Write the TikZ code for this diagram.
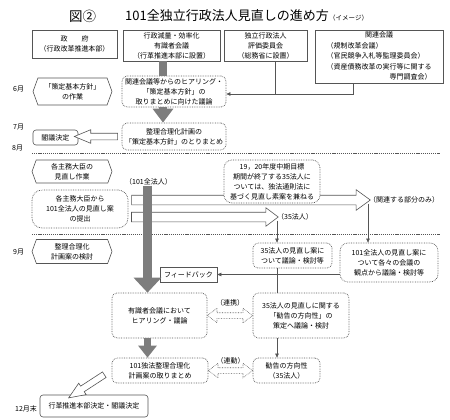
\documentclass[tikz,border=0pt]{standalone}
\usepackage{fontspec}
\setmainfont{Noto Sans CJK JP}
\usetikzlibrary{positioning,calc,arrows.meta,shapes.symbols,shapes.arrows}

\definecolor{linegray}{RGB}{85,85,85}
\definecolor{bargray}{RGB}{125,125,125}

% hollow block arrow laid between two points
\newcommand{\blockarrow}[3]{%
  \path let \p1=(#2), \p2=(#3) in
    node[#1, rotate={atan2((\y2)-(\y1),(\x2)-(\x1))},
         minimum height={veclen((\x2)-(\x1),(\y2)-(\y1))}]
      at ($(\p1)!0.5!(\p2)$) {};}

\begin{document}
\begin{tikzpicture}[x=1pt,y=-1pt,
  every node/.style={font=\fontsize{7}{10}\selectfont, inner sep=0pt},
  headbox/.style={draw=linegray, line width=0.6pt, align=center},
  dotbox/.style={draw=linegray, densely dotted, line width=0.7pt, fill=white,
    rounded corners=5pt, align=center},
  solidbox/.style={draw=linegray, line width=0.6pt, rounded corners=3pt, align=center},
  hexbox/.style={draw=linegray, line width=0.6pt, signal, signal to=west and east,
    signal pointer angle=140, align=center},
  month/.style={anchor=west},
  conn/.style={draw=linegray, line width=0.6pt},
  arr/.style={-{Triangle[length=4pt,width=3.5pt]}},
  sepline/.style={draw=linegray, line width=0.6pt, dash pattern=on 1.2pt off 0.9pt},
  graybar/.style={draw=bargray, line width=8pt},
  grayarrow/.style={graybar, -{Triangle[length=14pt,width=20pt]}},
  openarrow/.style={single arrow, draw=linegray, line width=0.6pt, fill=white,
    inner xsep=0pt, single arrow head indent=0pt},
  dotarrow/.style={double arrow, draw=linegray, densely dotted, line width=0.6pt,
    fill=white, inner xsep=0pt, inner ysep=2.5pt, double arrow head extend=4.5pt,
    double arrow tip angle=74}
]
  \useasboundingbox (0,0) rectangle (450,420);

  % title
  \node[anchor=west, font=\fontsize{13.5}{14}\selectfont] (fig) at (69,16) {図②};
  \node[anchor=west, font=\fontsize{13}{14}\selectfont] (title) at (125,16)
    {101全独立行政法人見直しの進め方};
  \node[anchor=base west, font=\fontsize{6.5}{7}\selectfont] (image)
    at (title.base east) {（イメージ）};

  % header row
  \node[headbox, minimum width=85, minimum height=28] (gov) at (74.5,44)
    {政　　府\\（行政改革推進本部）};
  \node[headbox, minimum width=97, minimum height=31] (expert) at (171.5,45.5)
    {行政減量・効率化\\有識者会議\\（行革推進本部に設置）};
  \node[headbox, minimum width=83, minimum height=31] (evalc) at (265.5,45.5)
    {独立行政法人\\評価委員会\\（総務省に設置）};
  \node[headbox, minimum width=128, minimum height=53] (related) at (379,56.5)
    {\def\arraystretch{1.05}\begin{tabular}{@{}l@{}}
      \multicolumn{1}{@{}c@{}}{関連会議}\\
      （規制改革会議）\\
      （官民競争入札等監理委員会）\\
      （資産債務改革の実行等に関する\\
      \multicolumn{1}{@{}r@{}}{専門調査会）}
    \end{tabular}};

  % months
  \node[month] (m6) at (13,89) {6月};
  \node[month] (m7) at (13,127) {7月};
  \node[month] (m8) at (12,148) {8月};
  \node[month] (m9) at (13,252) {9月};
  \node[month] (m12) at (15,409) {12月末};

  % June - August
  \node[hexbox, minimum width=79, minimum height=27] (hex1) at (72.5,91.5)
    {「策定基本方針」\\の作業};
  \node[dotbox, minimum width=104, minimum height=31] (hearing) at (174,91.5)
    {関連会議等からのヒアリング・\\「策定基本方針」の\\取りまとめに向けた議論};
  \node[dotbox, minimum width=104, minimum height=27] (policy) at (174,136.5)
    {整理合理化計画の\\「策定基本方針」のとりまとめ};
  \node[solidbox, minimum width=45, minimum height=15] (cabinet1) at (55.5,137.5)
    {閣議決定};
  \blockarrow{openarrow, inner ysep=3pt, single arrow head extend=3.5pt,
    single arrow tip angle=45}{policy.west}{cabinet1.east |- policy.west}

  \draw[sepline] (32,153) -- (440,153);

  % August - September
  \node[hexbox, minimum width=80, minimum height=23] (hex2) at (72,171.5)
    {各主務大臣の\\見直し作業};
  \node (lbl101) at (148.5,182) {（101全法人）};
  \node[dotbox, rounded corners=10pt, minimum width=96, minimum height=38]
    (submit) at (80,209) {各主務大臣から\\101全法人の見直し案\\の提出};

  \coordinate (tipRel) at (367,200);
  \coordinate (tip35) at (275,217);
  \blockarrow{openarrow, inner ysep=4.5pt, single arrow head extend=5.5pt,
    single arrow tip angle=72}{submit.east |- tipRel}{tipRel}
  \blockarrow{openarrow, inner ysep=4.5pt, single arrow head extend=4.5pt,
    single arrow tip angle=74}{submit.east |- tip35}{tip35}

  \node[dotbox, rounded corners=8pt, minimum width=96, minimum height=43]
    (box1920) at (272,181.5)
    {19，20年度中期目標\\期間が終了する35法人に\\ついては、独法通則法に\\基づく見直し素案を兼ねる};
  \node[right=2pt of tipRel] (lblRel) {（関連する部分のみ）};
  \node[right=2pt of tip35] (lbl35) {（35法人）};

  \draw[sepline] (32,234) -- (440,234);

  % September - December
  \node[hexbox, minimum width=80, minimum height=24] (hex3) at (72,251.5)
    {整理合理化\\計画案の検討};
  \node[dotbox, minimum width=79, minimum height=25] (disc35) at (292.5,255.5)
    {35法人の見直し案に\\ついて議論・検討等};
  \node[dotbox, rounded corners=8pt, minimum width=98, minimum height=39]
    (disc101) at (389,262.5)
    {101全法人の見直し案に\\ついて各々の会議の\\観点から議論・検討等};
  \node[draw=linegray, line width=0.6pt, minimum width=57, minimum height=15]
    (feedback) at (188.5,274.5) {フィードバック};
  \node[dotbox, minimum width=95, minimum height=45] (hearing2) at (159.5,315.5)
    {有識者会議において\\ヒアリング・議論};
  \node[dotbox, minimum width=96, minimum height=45] (rec35) at (301,315.5)
    {35法人の見直しに関する\\「勧告の方向性」の\\策定へ議論・検討};
  \node[dotbox, minimum width=96, minimum height=25] (plan101) at (160,370.5)
    {101独法整理合理化\\計画案の取りまとめ};
  \node[dotbox, minimum width=67, minimum height=25] (recdir) at (286.5,370.5)
    {勧告の方向性\\（35法人）};
  \node[solidbox, minimum width=108, minimum height=22] (final) at (94,406)
    {行革推進本部決定・閣議決定};

  \blockarrow{dotarrow}{hearing2.east}{rec35.west}
  \node (link) at ($(hearing2.east)!0.5!(rec35.west)+(0,-13)$) {（連携）};
  \blockarrow{dotarrow}{plan101.east}{recdir.west}
  \node (sync) at ($(plan101.east)!0.5!(recdir.west)+(0,-10)$) {（連動）};
  \blockarrow{openarrow, inner ysep=3pt, single arrow head extend=3.5pt,
    single arrow tip angle=45}{$(plan101.west)+(-4,2)$}{$(final.north)+(-22,1)$}

  % gray flow arrows
  \coordinate (colA) at (163,0);
  \coordinate (colB) at (147.5,0);
  \draw[graybar] (expert.south -| colA) -- (hearing.north -| colA);
  \draw[grayarrow] (hearing.south -| colA) -- (policy.north -| colA);
  \draw[graybar, line width=9pt, -{Triangle[length=15pt,width=27pt]}]
    (lbl101.south -| colB) -- (hearing2.north -| colB);
  \draw[graybar, line width=7pt, -{Triangle[length=12pt,width=18pt]}]
    (hearing2.south -| colB) -- (plan101.north -| colB);

  % thin connectors
  \coordinate (joinE) at (275,94);
  \coordinate (joinR) at (353,94);
  \draw[conn] (evalc.south -| joinE) -- (joinE);
  \draw[conn] (related.south -| joinR) -- (joinR) -- (joinE);
  \draw[conn, arr] (joinE) -- (hearing.east |- joinE);

  \coordinate (col35) at (277,0);
  \coordinate (colRel) at (368,0);
  \draw[conn, arr] (lbl35.south -| col35) -- (disc35.north -| col35);
  \draw[conn, arr] (lblRel.south -| colRel) -- (disc101.north -| colRel);
  \draw[conn, arr] (disc101.west |- feedback.east) -- (feedback.east);
  \draw[conn] (disc35.south -| col35) -- (rec35.north -| col35);
  \draw[conn, arr] (rec35.south -| col35) -- (recdir.north -| col35);
\end{tikzpicture}
\end{document}
